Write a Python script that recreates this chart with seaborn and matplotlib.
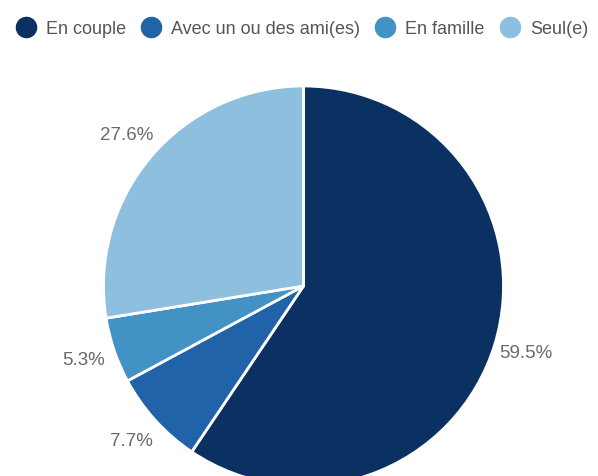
import matplotlib.pyplot as plt
import seaborn as sns
from matplotlib.lines import Line2D

categories = ["En couple", "Avec un ou des ami(es)", "En famille", "Seul(e)"]
shares = [59.5, 7.7, 5.3, 27.6]
colors = ["#0b3162", "#2163a9", "#4292c6", "#8ebfdf"]

sns.set_style("white")
plt.rcParams['font.family'] = ['Liberation Sans', 'DejaVu Sans']

fig = plt.figure(figsize=(5.98, 4.76), dpi=100)
ax = fig.add_axes([0, 0, 1, 1])

wedges, texts, autotexts = ax.pie(
    shares, colors=colors, startangle=90, counterclock=False,
    center=(303.5, 190), radius=200, frame=True,
    autopct='%.1f%%', pctdistance=1.16,
    wedgeprops=dict(edgecolor='white', linewidth=2),
    textprops=dict(color='#6a6a6a', fontsize=13.5),
)
# keep the shown values as given (they sum to 100.1)
for t, v in zip(autotexts, shares):
    t.set_text(f"{v:.1f}%")

ax.set_xlim(0, 598)
ax.set_ylim(0, 476)
ax.set_aspect('equal')
ax.axis('off')

handles = [Line2D([], [], marker='o', linestyle='', markersize=14.5,
                  markerfacecolor=c, markeredgecolor=c) for c in colors]
ax.legend(handles, categories, loc='upper center', bbox_to_anchor=(0.505, 1.0),
          ncol=4, frameon=False, fontsize=13, handletextpad=0.55,
          columnspacing=0.85, handlelength=1.1, labelcolor='#555555',
          borderaxespad=0.75)

fig.savefig('out.png', dpi=100)
